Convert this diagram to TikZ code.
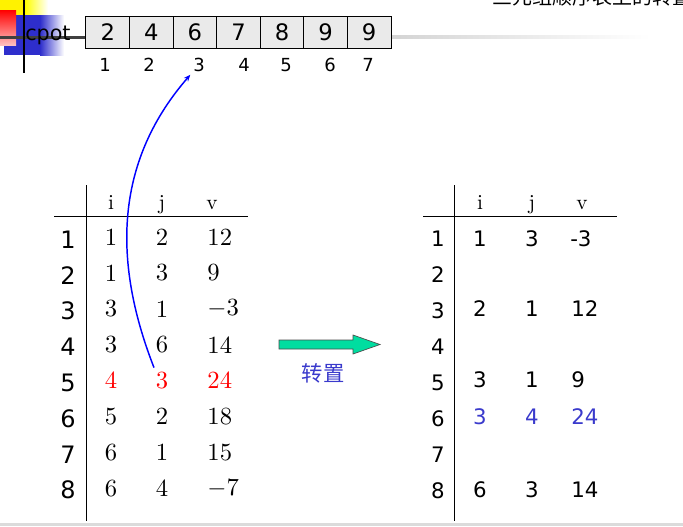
\documentclass[tikz,border=0pt]{standalone}
\usepackage{fontspec}
\newfontfamily\tah{DejaVu Sans}
\newfontfamily\cjk{Noto Sans CJK SC}
\usetikzlibrary{arrows.meta}
\definecolor{cellgray}{HTML}{EAEAEA}
\definecolor{tblue}{HTML}{3A3ACC}
\definecolor{agreen}{HTML}{00DDA0}
\definecolor{lgray}{HTML}{D4D4D4}
\definecolor{logoblue}{HTML}{2E2ECC}
\begin{document}
\begin{tikzpicture}[x=0.75pt,y=-0.75pt,
  cell/.style={draw=black,line width=0.75pt,fill=cellgray,minimum width=32.7pt,minimum height=24pt,inner sep=0pt,font=\tah\fontsize{17}{17}\selectfont},
  idx/.style={inner sep=0pt,font=\tah\fontsize{13.5}{13.5}\selectfont},
  rownum/.style={inner sep=0pt,font=\tah\fontsize{18}{18}\selectfont},
  serifd/.style={inner sep=0pt,scale=1.85,font=\fontsize{10}{12}\selectfont},
  sansd/.style={inner sep=0pt,font=\tah\fontsize{16}{16}\selectfont},
  hdr/.style={inner sep=0pt,anchor=base,scale=1.6,font=\fontsize{10}{12}\selectfont},
  rule/.style={line width=0.75pt,black}]
\useasboundingbox (0,0) rectangle (683,526);
\fill[white] (0,0) rectangle (683,526);

% logo decoration
\fill[yellow] (0,0) rectangle (25,15);
\shade[left color=yellow,right color=white] (25,0) rectangle (48,15);
\fill[logoblue] (4,15) rectangle (40,55);
\shade[left color=logoblue,right color=white] (40,15) rectangle (64,55);
\shade[top color=red,bottom color=red!25] (0,10) rectangle (16,45);
\fill[black!75] (0,35.5) rectangle (87,38.5);
\shade[left color=lgray,right color=white] (391,35.5) rectangle (650,38.5);
\draw[line width=1.6pt,black] (24,0) -- (24,73);

% clipped title at top right
\begin{scope}
\clip (480,0) rectangle (683,8);
\node[anchor=base west,inner sep=0pt,font=\cjk\fontsize{15}{15}\selectfont] (title) at (492,4.5) {三元组顺序表上的转置(三元组};
\end{scope}

\node[anchor=base west,inner sep=0pt,font=\tah\fontsize{15.5}{15.5}\selectfont] (cpot) at (25,40) {cpot};

% cpot array
\foreach \v [count=\k] in {2,4,6,7,8,9,9} {
  \node[cell] (c\k) at ({86+43.57*(\k-0.5)},32) {\v};
}
\node[idx] (i1) at (105,65) {1};
\node[idx] (i2) at (149,65) {2};
\node[idx] (i3) at (199,65) {3};
\node[idx] (i4) at (244,65) {4};
\node[idx] (i5) at (286,65) {5};
\node[idx] (i6) at (330,65) {6};
\node[idx] (i7) at (368,65) {7};

% left table
\draw[rule] (86,185) -- (86,521);
\draw[rule] (54,216) -- (248,216);
\node[hdr] (lhi) at (111,209) {i};
\node[hdr] (lhj) at (162,209) {j};
\node[hdr] (lhv) at (212,209) {v};
\foreach \n [count=\k] in {1,...,8} {
  \node[rownum] (ln\k) at (68,{239.5+35.8*(\k-1)}) {\n};
}
\foreach \a/\b/\c [count=\k] in {1/2/12,1/3/9,3/1/$-3$,3/6/14,4/3/24,5/2/18,6/1/15,6/4/$-7$} {
  \ifnum\k=5
    \node[serifd,red] (la\k) at (111,{237+35.9*(\k-1)}) {\a};
    \node[serifd,red] (lb\k) at (162,{237+35.9*(\k-1)}) {\b};
    \node[serifd,red,anchor=west] (lc\k) at (207,{237+35.9*(\k-1)}) {\c};
  \else
    \node[serifd] (la\k) at (111,{237+35.9*(\k-1)}) {\a};
    \node[serifd] (lb\k) at (162,{237+35.9*(\k-1)}) {\b};
    \node[serifd,anchor=west] (lc\k) at (207,{237+35.9*(\k-1)}) {\c};
  \fi
}

% right table
\draw[rule] (454,185) -- (454,521);
\draw[rule] (423,216) -- (617,216);
\node[hdr] (rhi) at (480,209) {i};
\node[hdr] (rhj) at (532,209) {j};
\node[hdr] (rhv) at (582,209) {v};
\foreach \n [count=\k] in {1,...,8} {
  \node[rownum,font=\tah\fontsize{16}{16}\selectfont] (rn\k) at (438,{239+35.9*(\k-1)}) {\n};
}
\node[sansd] (ra1) at (480,239) {1};
\node[sansd] (rb1) at (532,239) {3};
\node[sansd,anchor=west] (rc1) at (570,239) {-3};
\node[sansd] (ra3) at (480,309) {2};
\node[sansd] (rb3) at (532,309) {1};
\node[sansd,anchor=west] (rc3) at (571,309) {12};
\node[sansd] (ra5) at (480,380) {3};
\node[sansd] (rb5) at (532,380) {1};
\node[sansd,anchor=west] (rc5) at (571,380) {9};
\node[sansd,tblue] (ra6) at (480,417) {3};
\node[sansd,tblue] (rb6) at (532,417) {4};
\node[sansd,tblue,anchor=west] (rc6) at (571,417) {24};
\node[sansd] (ra8) at (480,490) {6};
\node[sansd] (rb8) at (532,490) {3};
\node[sansd,anchor=west] (rc8) at (571,490) {14};

% green arrow and label
\draw[fill=agreen,draw=black!70,line width=0.5pt] (279,340) -- (353,340) -- (353,335) -- (380,344.5) -- (353,354) -- (353,349) -- (279,349) -- cycle;
\node[inner sep=0pt,font=\cjk\fontsize{16}{16}\selectfont,text=tblue] (zz) at (323,373) {转置};

% blue curved connector
\draw[blue,line width=1.1pt,-{Stealth[length=5pt,width=4pt]}] ([xshift=-1pt,yshift=3pt]lb5.north west) .. controls (110,255) and (118,158) .. ([xshift=-2pt,yshift=-2pt]i3.south west);

% bottom band
\fill[black!14] (0,522.5) rectangle (683,526);
\end{tikzpicture}
\end{document}
